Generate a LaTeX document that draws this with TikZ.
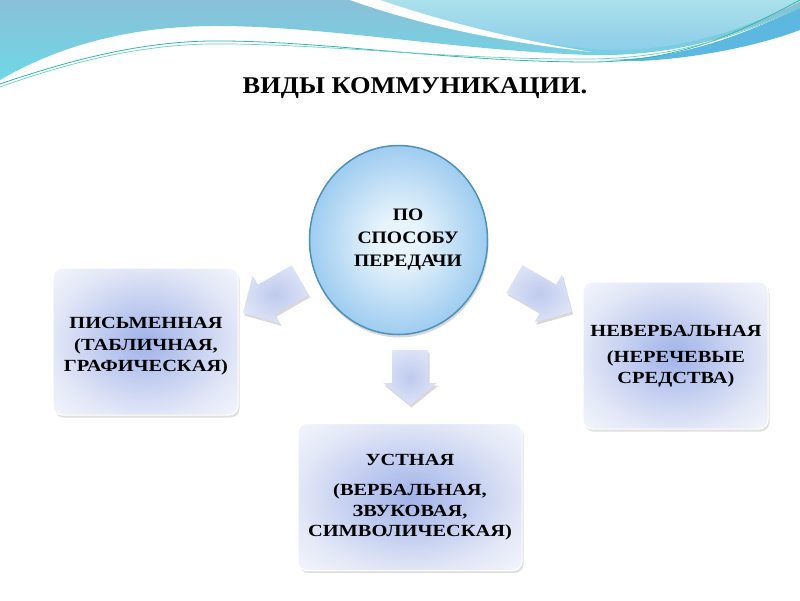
\documentclass[tikz,border=0pt]{standalone}
\usepackage{fontspec}
\setmainfont{Liberation Serif}
\usetikzlibrary{shadows,shapes.geometric}
\definecolor{bandtop}{RGB}{138,192,216}
\definecolor{bandbot}{RGB}{110,216,230}
\definecolor{lighttop}{RGB}{170,224,234}
\definecolor{lightbot}{RGB}{140,205,234}
\definecolor{darkpatch}{RGB}{92,184,224}
\definecolor{teal}{RGB}{48,184,168}
\definecolor{boxin}{RGB}{160,178,232}
\definecolor{boxedge}{RGB}{226,231,247}
\definecolor{boxout}{RGB}{244,246,252}
\definecolor{circin}{RGB}{232,244,252}
\definecolor{circout}{RGB}{158,204,240}
\definecolor{circedge}{RGB}{78,146,186}
\definecolor{arrin}{RGB}{190,202,238}
\definecolor{arrout}{RGB}{226,231,248}
\pgfdeclareradialshading{boxshade}{\pgfpoint{0bp}{0bp}}{color(0bp)=(boxin); color(25bp)=(boxedge); color(36bp)=(boxout); color(50bp)=(boxout)}
\pgfdeclareradialshading{circshade}{\pgfpoint{0bp}{0bp}}{color(0bp)=(circin); color(6bp)=(circin); color(25bp)=(circout); color(50bp)=(circout)}
\pgfdeclareradialshading{arrshade}{\pgfpoint{0bp}{0bp}}{color(0bp)=(arrin); color(30bp)=(arrout); color(50bp)=(arrout)}
\tikzset{
  infobox/.style={rounded corners=9pt, minimum height=147pt,
    draw=white, line width=1pt, shading=boxshade,
    drop shadow={opacity=0.25, shadow xshift=1.5pt, shadow yshift=-2.5pt}},
  hubcircle/.style={ellipse, minimum width=178pt, minimum height=189pt, inner sep=0pt,
    draw=circedge, line width=1.5pt, shading=circshade,
    drop shadow={opacity=0.3, shadow xshift=1pt, shadow yshift=-3pt}},
  blockarrow/.style={shading=arrshade,
    drop shadow={opacity=0.3, shadow xshift=1.5pt, shadow yshift=-2.5pt}},
  boxtxt/.style={align=center, xscale=1.2, font=\bfseries\fontsize{17}{20.5}\selectfont},
  hubtxt/.style={align=center, xscale=1.12, font=\bfseries\fontsize{17.5}{23}\selectfont}
}
\begin{document}
\begin{tikzpicture}[x=1pt,y=-1pt]
\useasboundingbox (0,0) rectangle (800,600);
\fill[white] (0,0) rectangle (800,600);
% top band
\shade[top color=bandtop, bottom color=bandbot]
  (0,0) -- (800,0) -- (800,8) .. controls (750,28) and (690,57) .. (590,55)
  .. controls (450,50) and (320,25) .. (210,26) .. controls (130,27) and (60,45) .. (0,80) -- cycle;
\shade[top color=lighttop, bottom color=lightbot]
  (375,0) .. controls (430,20) and (500,40) .. (600,50) .. controls (690,52) and (750,25) .. (800,2) -- (800,0) -- cycle;
\fill[darkpatch]
  (600,60) .. controls (690,60) and (750,30) .. (800,8) -- (800,30) .. controls (760,45) and (700,58) .. (640,61) -- cycle;
\fill[white]
  (350,0) .. controls (420,25) and (500,42) .. (592,52) .. controls (500,37) and (430,17) .. (380,0) -- cycle;
\draw[teal, line width=0.8pt]
  (0,84) .. controls (70,60) and (140,42) .. (210,41) .. controls (320,40) and (450,62) .. (590,62) .. controls (680,62) and (740,32) .. (800,0);
\draw[teal!70!white, line width=0.7pt]
  (0,87) .. controls (70,62) and (140,45) .. (210,44) .. controls (320,43) and (450,60) .. (590,59) .. controls (680,58) and (740,34) .. (800,8);
% title
\node[xscale=1.1, font=\bfseries\fontsize{24}{28}\selectfont] (title) at (415,88) {ВИДЫ КОММУНИКАЦИИ.};
% arrows (block arrows, drawn in local frames pointing along +x)
\begin{scope}[shift={(410,377.5)}, rotate=-90]
  \path[blockarrow] (-27.5,-18) -- (5.5,-18) -- (5.5,-27) -- (27.5,0) -- (5.5,27) -- (5.5,18) -- (-27.5,18) -- cycle;
\end{scope}
\begin{scope}[shift={(271.5,296.5)}, rotate=210]
  \path[blockarrow] (-33,-17) -- (6,-17) -- (6,-27.5) -- (33,0) -- (6,27.5) -- (6,17) -- (-33,17) -- cycle;
\end{scope}
\begin{scope}[shift={(543,295.5)}, rotate=-30]
  \path[blockarrow] (-33,-16) -- (6,-16) -- (6,-27.5) -- (33,0) -- (6,27.5) -- (6,16) -- (-33,16) -- cycle;
\end{scope}
% hub
\node[hubcircle] (hub) at (398.5,240) {};
\node[hubtxt] (hubtext) at (408,240) {ПО\\СПОСОБУ\\ПЕРЕДАЧИ};
% boxes
\node[infobox, minimum width=185pt] (left) at (145.5,341.5) {};
\node[boxtxt] (lefttext) at (146,346) {ПИСЬМЕННАЯ\\[1.5pt](ТАБЛИЧНАЯ,\\ГРАФИЧЕСКАЯ)};
\node[infobox, minimum width=185pt] (right) at (675.5,355.5) {};
\node[boxtxt] (righttext) at (676,356) {НЕВЕРБАЛЬНАЯ\\[5.5pt](НЕРЕЧЕВЫЕ\\СРЕДСТВА)};
\node[infobox, minimum width=224pt] (bottom) at (410,497) {};
\node[boxtxt] (bottomtext) at (410,497.5) {УСТНАЯ\\[9.5pt](ВЕРБАЛЬНАЯ,\\ЗВУКОВАЯ,\\СИМВОЛИЧЕСКАЯ)};
\end{tikzpicture}
\end{document}
